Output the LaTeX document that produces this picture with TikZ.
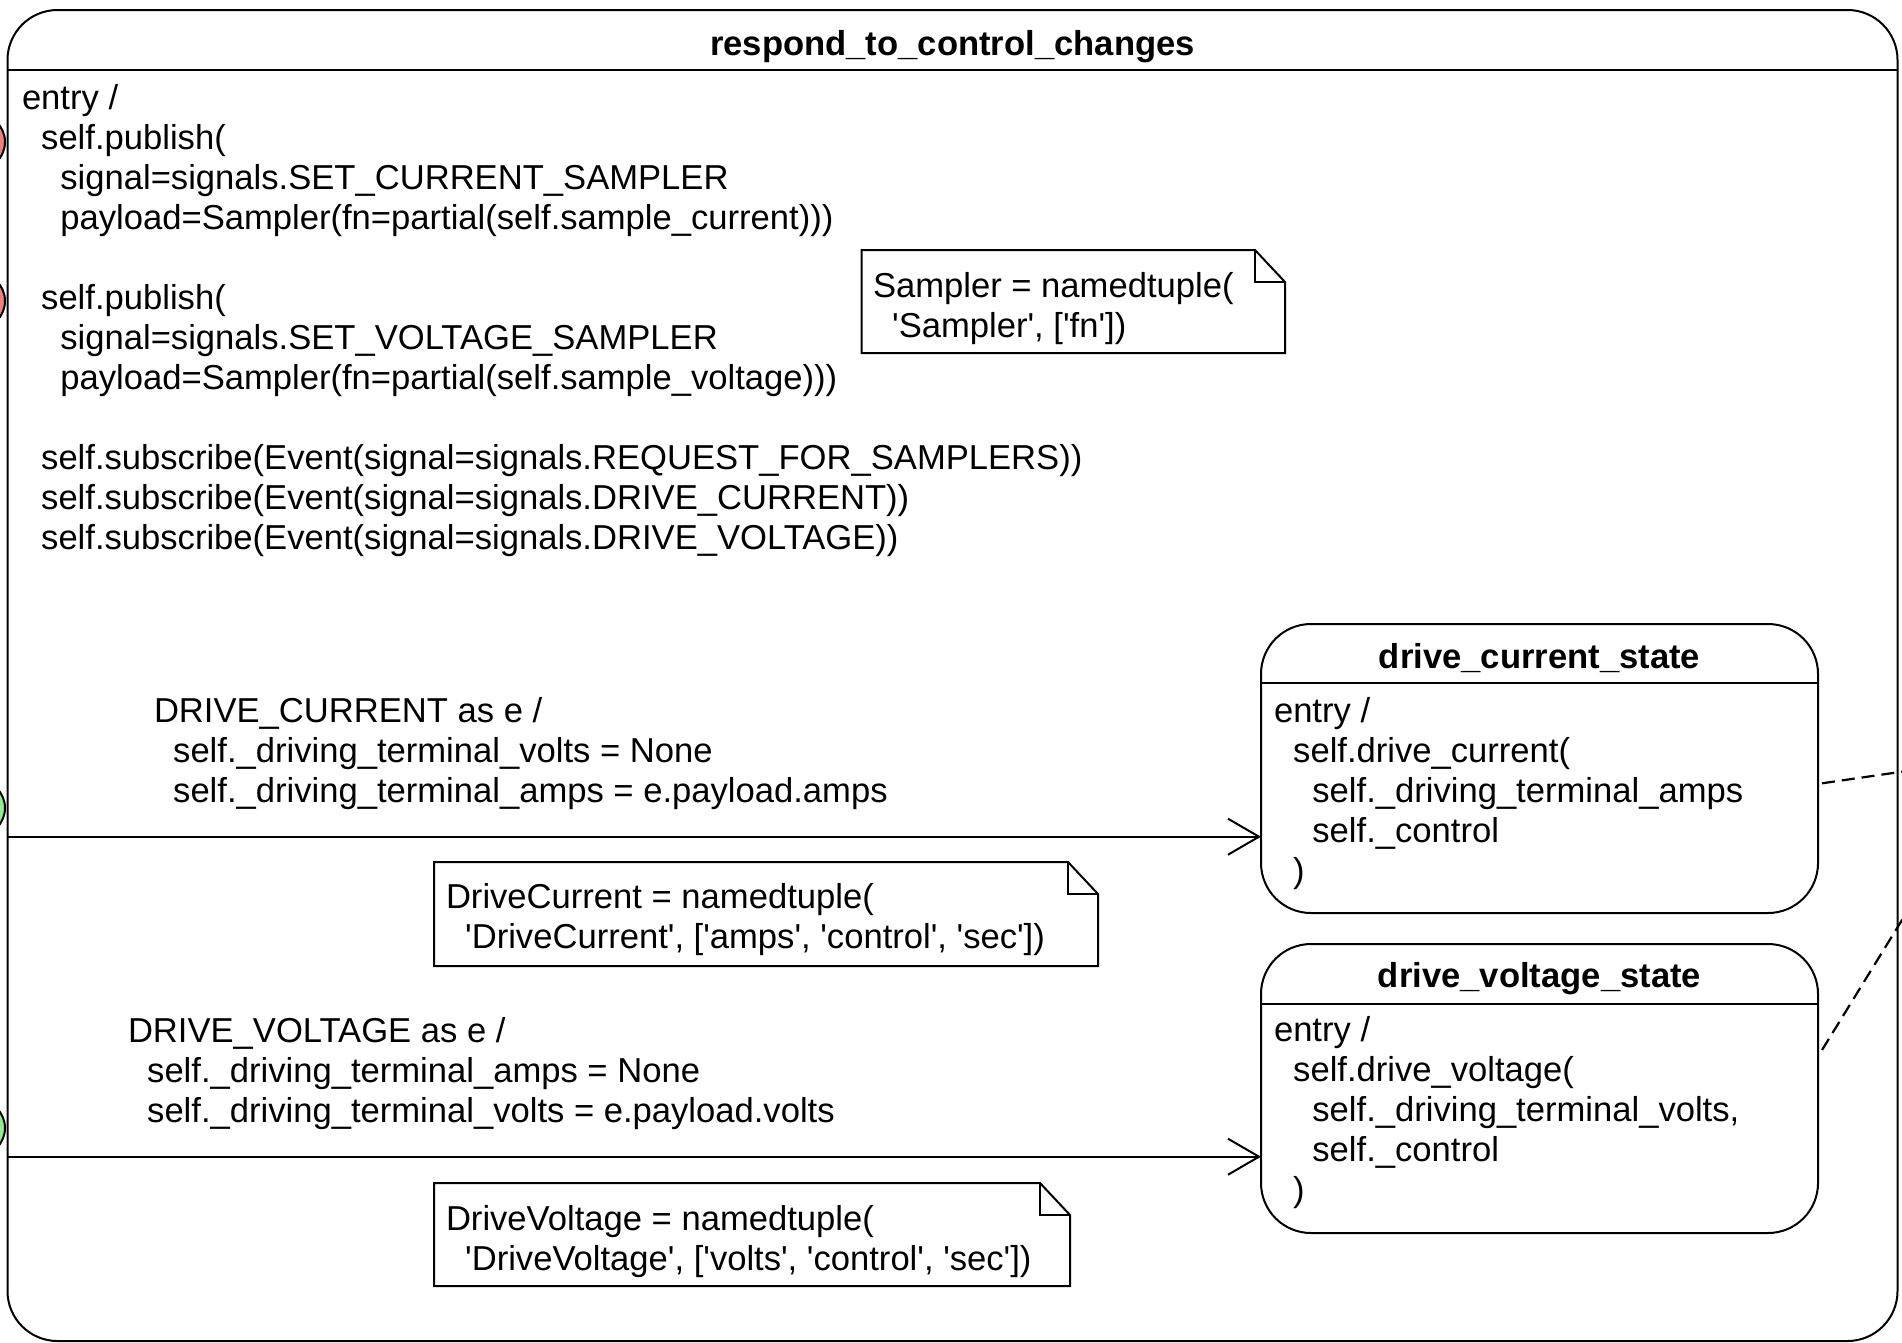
\documentclass[tikz,border=0pt]{standalone}
\usepackage{fontspec}
\setmainfont{Liberation Sans}
\usetikzlibrary{arrows.meta,calc}
\definecolor{portred}{RGB}{240,128,128}
\definecolor{portgreen}{RGB}{144,238,144}
\newcommand\myind{\hspace*{19.2pt}}
\newcommand\sq{\textquotesingle}
\begin{document}
\begin{tikzpicture}[x=1pt,y=-1pt,
  every node/.style={inner sep=0pt, outer sep=0pt},
  txt/.style={anchor=north west, align=left, font=\fontsize{34.6}{40}\selectfont},
  ttl/.style={anchor=base, font=\fontsize{34.6}{40}\selectfont\bfseries},
  statebox/.style={draw, line width=2pt, rounded corners=50pt},
  notebox/.style={draw, line width=2pt, fill=white},
  sep/.style={line width=2pt},
  arr/.style={line width=2pt, -{Straight Barb[length=31pt,width=36pt,line width=2pt]}},
  lnk/.style={line width=2.2pt, dash pattern=on 13pt off 7pt},
  port/.style={circle, draw, line width=2pt, minimum size=56pt}
]
\useasboundingbox (0,0) rectangle (1902,1342);
\clip (0,0) rectangle (1902,1342);

% ports on the left edge
\node[port, fill=portred] (p1) at (-23,142) {};
\node[port, fill=portred] (p2) at (-23,301) {};
\node[port, fill=portgreen] (p3) at (-23,808) {};
\node[port, fill=portgreen] (p4) at (-23,1128) {};

% main composite state
\node[statebox, minimum width=1890pt, minimum height=1331pt] (main) at (952.5,675.5) {};
\draw[sep] ($(main.north west)+(0,60)$) -- ($(main.north east)+(0,60)$);
\node[ttl] (t0) at ($(main.north)+(0,45)$) {respond\_to\_control\_changes};
\node[txt] (e0) at (22,81.5) {\strut entry /\\
\strut\myind self.publish(\\
\strut\myind\myind signal=signals.SET\_CURRENT\_SAMPLER\\
\strut\myind\myind payload=Sampler(fn=partial(self.sample\_current)))\\
\strut\\
\strut\myind self.publish(\\
\strut\myind\myind signal=signals.SET\_VOLTAGE\_SAMPLER\\
\strut\myind\myind payload=Sampler(fn=partial(self.sample\_voltage)))\\
\strut\\
\strut\myind self.subscribe(Event(signal=signals.REQUEST\_FOR\_SAMPLERS))\\
\strut\myind self.subscribe(Event(signal=signals.DRIVE\_CURRENT))\\
\strut\myind self.subscribe(Event(signal=signals.DRIVE\_VOLTAGE))};

% Sampler note
\draw[notebox] (861.7,250) -- (1255,250) -- (1285,282) -- (1285,353) -- (861.7,353) -- cycle;
\draw[sep] (1255,250) -- (1255,282) -- (1285,282);
\node[txt] (n1) at (873,269) {\strut Sampler = namedtuple(\\
\strut\myind\sq Sampler\sq, [\sq fn\sq])};

% drive_current_state
\node[statebox, minimum width=557pt, minimum height=289pt] (dcs) at (1539.5,768.5) {};
\draw[sep] ($(dcs.north west)+(0,59)$) -- ($(dcs.north east)+(0,59)$);
\node[ttl] (t1) at ($(dcs.north)+(0,44)$) {drive\_current\_state};
\node[txt] (e1) at (1274,694) {\strut entry /\\
\strut\myind self.drive\_current(\\
\strut\myind\myind self.\_driving\_terminal\_amps\\
\strut\myind\myind self.\_control\\
\strut\myind )};

% drive_voltage_state
\node[statebox, minimum width=557pt, minimum height=289pt] (dvs) at (1539.5,1088.5) {};
\draw[sep] ($(dvs.north west)+(0,60)$) -- ($(dvs.north east)+(0,60)$);
\node[ttl] (t2) at ($(dvs.north)+(0,43)$) {drive\_voltage\_state};
\node[txt] (e2) at (1274,1013) {\strut entry /\\
\strut\myind self.drive\_voltage(\\
\strut\myind\myind self.\_driving\_terminal\_volts,\\
\strut\myind\myind self.\_control\\
\strut\myind )};

% transitions
\coordinate (s1) at (7.5,836.7);
\coordinate (s2) at (7.5,1156.7);
\draw[arr] (s1) -- (s1 -| dcs.west);
\draw[arr] (s2) -- (s2 -| dvs.west);
\node[txt] (l1) at (154,694) {\strut DRIVE\_CURRENT as e /\\
\strut\myind self.\_driving\_terminal\_volts = None\\
\strut\myind self.\_driving\_terminal\_amps = e.payload.amps};
\node[txt] (l2) at (128,1014) {\strut DRIVE\_VOLTAGE as e /\\
\strut\myind self.\_driving\_terminal\_amps = None\\
\strut\myind self.\_driving\_terminal\_volts = e.payload.volts};

% notes below transitions
\draw[notebox] (434,862) -- (1068,862) -- (1098,894) -- (1098,966) -- (434,966) -- cycle;
\draw[sep] (1068,862) -- (1068,894) -- (1098,894);
\node[txt] (n2) at (446,880.5) {\strut DriveCurrent = namedtuple(\\
\strut\myind\sq DriveCurrent\sq, [\sq amps\sq, \sq control\sq, \sq sec\sq])};
\draw[notebox] (434,1183) -- (1040,1183) -- (1070,1215) -- (1070,1286) -- (434,1286) -- cycle;
\draw[sep] (1040,1183) -- (1040,1215) -- (1070,1215);
\node[txt] (n3) at (446,1202.5) {\strut DriveVoltage = namedtuple(\\
\strut\myind\sq DriveVoltage\sq, [\sq volts\sq, \sq control\sq, \sq sec\sq])};

% links leaving the picture
\coordinate (o1) at (1910,770.5);
\coordinate (o2) at (1910,907);
\draw[lnk] ($(dcs.east)+(4,14.8)$) -- (o1);
\draw[lnk] ($(dvs.east)+(4,-38.5)$) -- (o2);
\end{tikzpicture}
\end{document}
